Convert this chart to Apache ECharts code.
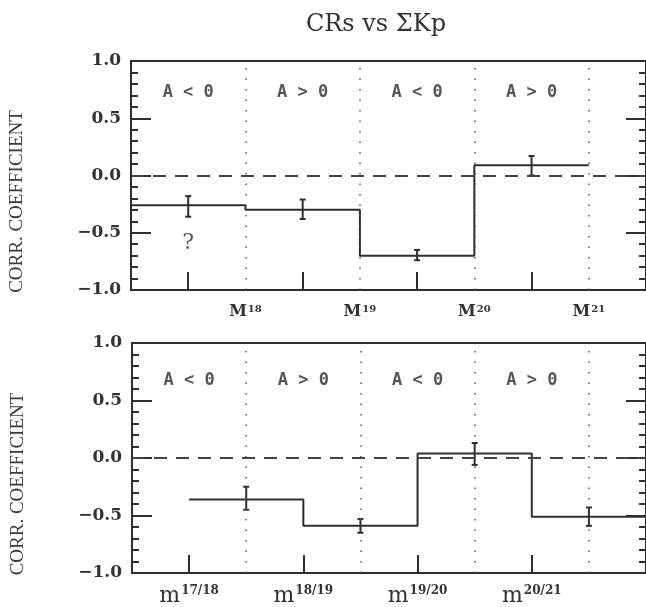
<!DOCTYPE html>
<html>
<head>
<meta charset="utf-8">
<script src="https://cdn.jsdelivr.net/npm/echarts@6/dist/echarts.min.js"></script>
<style>html,body{margin:0;padding:0;background:#fff;}#c{width:646px;height:607px;}</style>
</head>
<body>
<div id="c"></div>
<script>
// ---- data ----
const titleText = 'CRs vs ΣKp';
const yName = 'CORR. COEFFICIENT';
const topEdges = [0, 1, 2, 3, 4];
const topValues = [-0.26, -0.30, -0.70, 0.09];
const topErrX = [0.5, 1.5, 2.5, 3.5];
const topErrLo = [-0.36, -0.38, -0.74, 0.00];
const topErrHi = [-0.18, -0.21, -0.65, 0.17];
const botEdges = [0.5, 1.5, 2.5, 3.5, 4.5];
const botValues = [-0.36, -0.59, 0.04, -0.51];
const botErrX = [1, 2, 3, 4];
const botErrLo = [-0.45, -0.65, -0.06, -0.59];
const botErrHi = [-0.25, -0.53, 0.13, -0.43];
const dividers = [1, 2, 3, 4];
const regimeX = [0.5, 1.5, 2.5, 3.5];
const regimes = ['A < 0', 'A > 0', 'A < 0', 'A > 0'];
const topTickPos = [0.5, 1.5, 2.5, 3.5];
const topLabelPos = [1, 2, 3, 4];
const topLabels = ['18', '19', '20', '21'];
const botTickPos = [0.5, 1.5, 2.5, 3.5];
const botLabels = ['17/18', '18/19', '19/20', '20/21'];
const question = {x: 0.5, y: -0.59, text: '?'};

const ink = '#2e2e2e';
const chart = echarts.init(document.getElementById('c'));

function stepData(edges, vals) {
  const d = vals.map((v, i) => [edges[i], v]);
  d.push([edges[edges.length - 1], vals[vals.length - 1]]);
  return d;
}
function errData(xs, lo, hi) { return xs.map((x, i) => [x, lo[i], hi[i]]); }
function errRender(params, api) {
  const x = api.value(0);
  const p1 = api.coord([x, api.value(1)]);
  const p2 = api.coord([x, api.value(2)]);
  const w = 3;
  const st = {stroke: ink, lineWidth: 2};
  return {type: 'group', children: [
    {type: 'line', shape: {x1: p1[0], y1: p1[1], x2: p2[0], y2: p2[1]}, style: st},
    {type: 'line', shape: {x1: p1[0] - w, y1: p1[1], x2: p1[0] + w, y2: p1[1]}, style: st},
    {type: 'line', shape: {x1: p2[0] - w, y1: p2[1], x2: p2[0] + w, y2: p2[1]}, style: st}
  ]};
}
function yAxisCfg(idx, pos, withLabel) {
  return {
    type: 'value', gridIndex: idx, position: pos, min: -1, max: 1, interval: 0.5,
    axisLine: {show: true, onZero: false, lineStyle: {color: ink, width: 2}},
    axisTick: {show: true, inside: true, length: 20, lineStyle: {color: ink, width: 2}},
    minorTick: {show: true, splitNumber: 5, length: 7, lineStyle: {color: ink, width: 2}},
    splitLine: {show: false},
    axisLabel: withLabel ? {show: true, margin: 10, color: '#333', fontFamily: 'DejaVu Serif', fontWeight: 'bold', fontSize: 17,
      formatter: v => v.toFixed(1).replace('-', '−')} : {show: false},
    name: withLabel ? yName : '', nameLocation: 'middle', nameRotate: 90, nameGap: 104,
    nameTextStyle: {fontFamily: 'Liberation Serif', fontSize: 19, color: '#3a3a3a', padding: [0, 52, 0, 0]}
  };
}
function markLines() {
  return {
    silent: true, symbol: ['none', 'none'], label: {show: false}, animation: false,
    data: dividers.map(x => ({xAxis: x, lineStyle: {type: [1.5, 9], color: '#555', width: 1.5}}))
      .concat([{yAxis: 0, lineStyle: {type: [13, 9], color: '#444', width: 1.8}}])
  };
}
function regimeSeries(xi, yi, yv) {
  return {
    type: 'scatter', xAxisIndex: xi, yAxisIndex: yi, symbolSize: 1, itemStyle: {color: 'rgba(0,0,0,0)'},
    data: regimeX.map((x, i) => ({value: [x, yv], name: regimes[i]})),
    label: {show: true, position: 'inside', formatter: p => p.name, fontFamily: 'DejaVu Sans Mono', fontWeight: 'bold', fontSize: 17, color: '#2a2a2a'},
    silent: true
  };
}

const option = {
  backgroundColor: '#ffffff',
  animation: false,
  title: {text: titleText, left: 371, top: 8, textAlign: 'center',
    textStyle: {fontFamily: 'DejaVu Serif', fontWeight: 'normal', fontSize: 24, color: '#333'}},
  grid: [
    {left: 131, top: 61, width: 517, height: 229, show: true, borderColor: ink, borderWidth: 2},
    {left: 132, top: 343, width: 516, height: 233, show: true, borderColor: ink, borderWidth: 2}
  ],
  xAxis: [
    {type: 'value', gridIndex: 0, min: 0, max: 4.5,
      axisLine: {show: true, onZero: false, lineStyle: {color: ink, width: 2}},
      axisTick: {show: true, inside: true, length: 18, customValues: topTickPos, lineStyle: {color: ink, width: 2}},
      splitLine: {show: false},
      axisLabel: {show: true, margin: 14, customValues: topLabelPos,
        formatter: v => '{b|M}{s|' + topLabels[topLabelPos.indexOf(v)] + '}',
        rich: {b: {fontFamily: 'DejaVu Serif', fontWeight: 'bold', fontSize: 16, color: '#333'},
               s: {fontFamily: 'DejaVu Serif', fontWeight: 'bold', fontSize: 10, color: '#333', verticalAlign: 'top', padding: [0, 0, 0, 1]}}}},
    {type: 'value', gridIndex: 1, min: 0, max: 4.5,
      axisLine: {show: true, onZero: false, lineStyle: {color: ink, width: 2}},
      axisTick: {show: true, inside: true, length: 18, customValues: botTickPos, lineStyle: {color: ink, width: 2}},
      splitLine: {show: false},
      axisLabel: {show: true, margin: 12, customValues: botTickPos,
        formatter: v => '{b|m}{s|' + botLabels[botTickPos.indexOf(v)] + '}',
        rich: {b: {fontFamily: 'DejaVu Serif', fontSize: 22, color: '#333'},
               s: {fontFamily: 'DejaVu Serif', fontWeight: 'bold', fontSize: 12, color: '#333', verticalAlign: 'top', padding: [0, 0, 0, 1]}}}}
  ],
  yAxis: [
    yAxisCfg(0, 'left', true), yAxisCfg(0, 'right', false),
    yAxisCfg(1, 'left', true), yAxisCfg(1, 'right', false)
  ],
  series: [
    {type: 'line', xAxisIndex: 0, yAxisIndex: 0, step: 'end', symbol: 'none', data: stepData(topEdges, topValues),
      lineStyle: {color: ink, width: 2}, markLine: markLines(), silent: true},
    {type: 'custom', xAxisIndex: 0, yAxisIndex: 0, renderItem: errRender, data: errData(topErrX, topErrLo, topErrHi), silent: true},
    regimeSeries(0, 0, 0.72),
    {type: 'scatter', xAxisIndex: 0, yAxisIndex: 0, symbolSize: 1, itemStyle: {color: 'rgba(0,0,0,0)'},
      data: [{value: [question.x, question.y], name: question.text}],
      label: {show: true, position: 'inside', formatter: p => p.name, fontFamily: 'DejaVu Serif', fontSize: 22, color: '#333'}, silent: true},
    {type: 'line', xAxisIndex: 1, yAxisIndex: 2, step: 'end', symbol: 'none', data: stepData(botEdges, botValues),
      lineStyle: {color: ink, width: 2}, markLine: markLines(), silent: true},
    {type: 'custom', xAxisIndex: 1, yAxisIndex: 2, renderItem: errRender, data: errData(botErrX, botErrLo, botErrHi), silent: true},
    regimeSeries(1, 2, 0.67)
  ]
};
chart.setOption(option);
</script>
</body>
</html>
